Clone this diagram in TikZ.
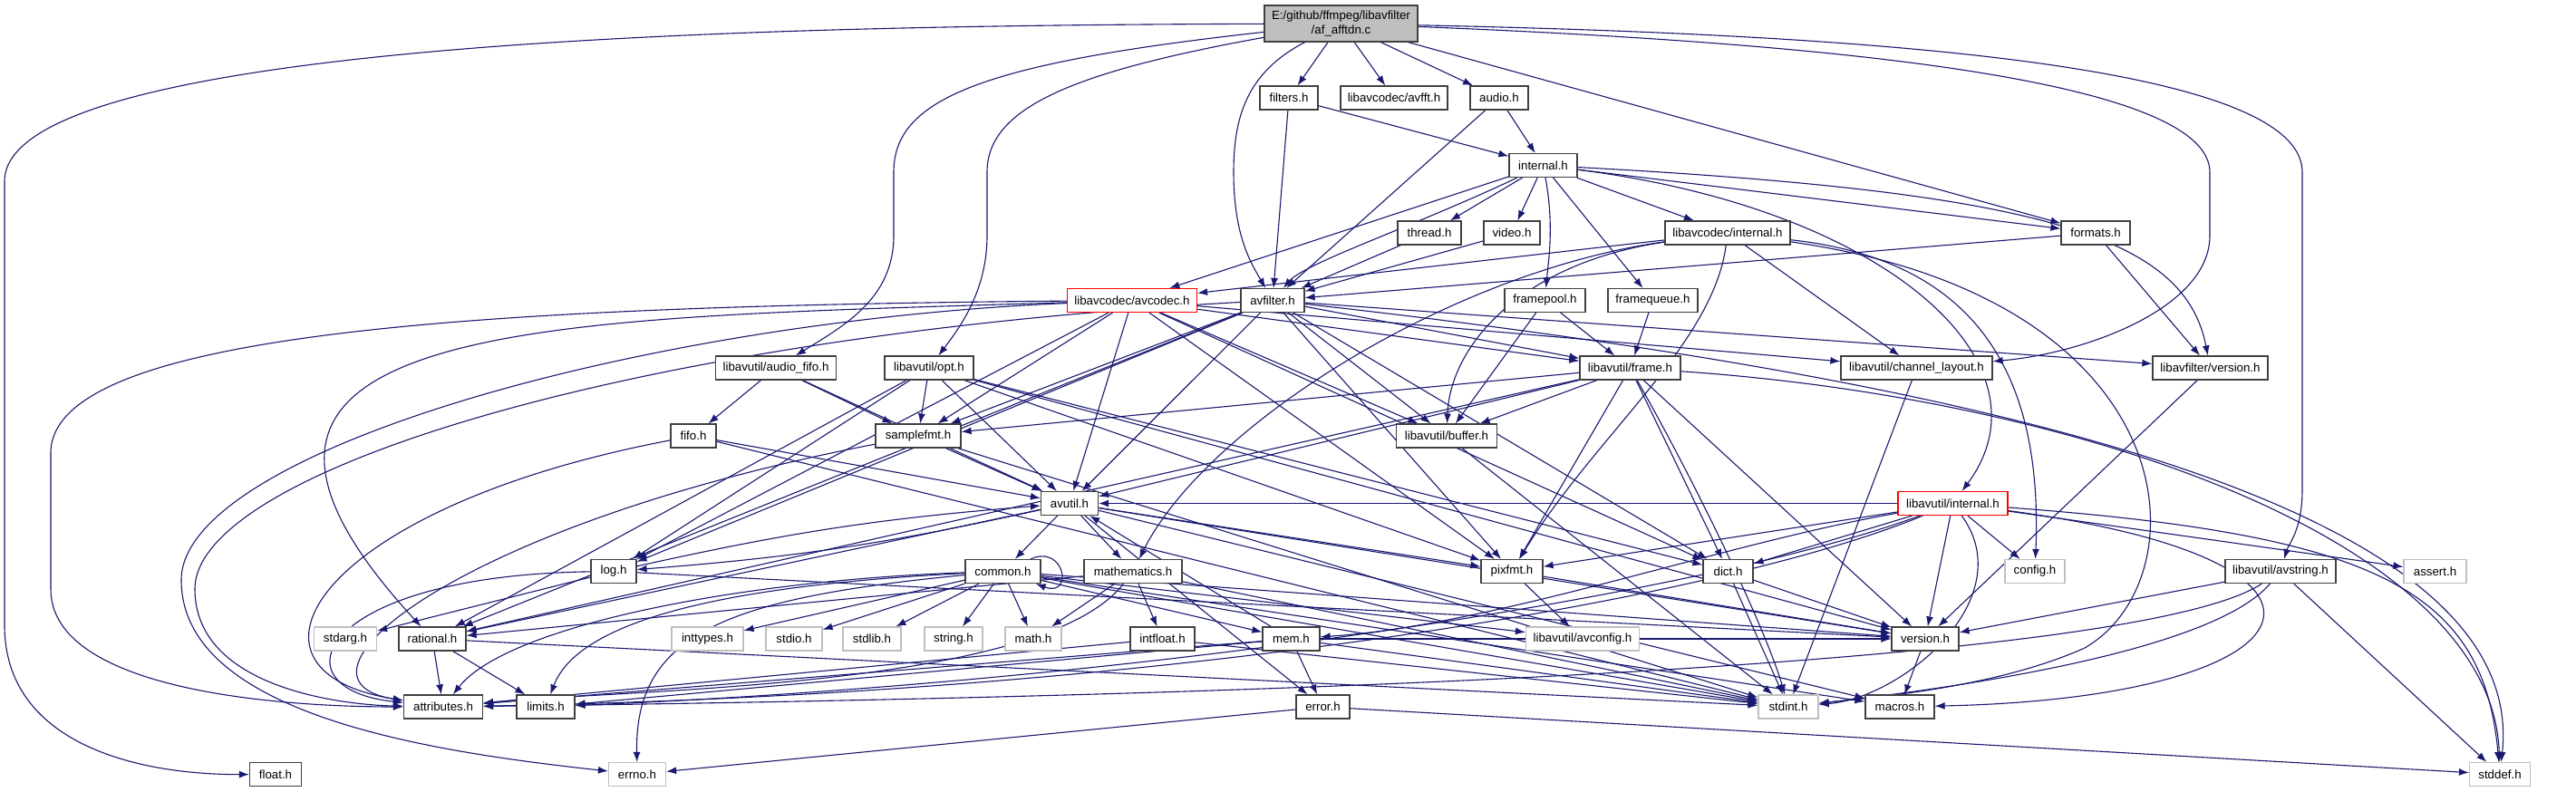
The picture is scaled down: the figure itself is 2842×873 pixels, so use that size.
\documentclass[tikz,border=0pt]{standalone}
\usepackage{fontspec}
\setmainfont{Liberation Sans}
\usetikzlibrary{arrows.meta}
\pgfdeclarelayer{bg}
\pgfsetlayers{bg,main}
\definecolor{edgec}{HTML}{191970}
\definecolor{grayb}{HTML}{BFBFBF}
\definecolor{nodeb}{HTML}{404040}
\begin{document}
\begin{tikzpicture}[x=1pt,y=-1pt,
  nd/.style={draw=nodeb,line width=1.2pt,fill=white,minimum height=26pt,inner sep=0pt,font=\fontsize{13.3}{15.5}\selectfont},
  gnd/.style={nd,draw=grayb},
  rnd/.style={nd,draw=red},
  e/.style={draw=edgec,line width=1.1pt,-{Latex[length=11pt,width=8pt]}}]
\useasboundingbox (0,0) rectangle (2842,873);
% nodes
\node[nd,fill=grayb,minimum width=169pt,minimum height=40pt,align=center] (root) at (1479.5,26) {E:/github/ffmpeg/libavfilter\\/af\_afftdn.c};
\node[nd,minimum width=64pt] (filters) at (1422,108) {filters.h};
\node[nd,minimum width=118pt] (avfft) at (1538,108) {libavcodec/avfft.h};
\node[nd,minimum width=64pt] (audio) at (1654,108) {audio.h};
\node[nd,minimum width=75pt] (internal) at (1702.5,182.5) {internal.h};
\node[nd,minimum width=70pt] (thread) at (1577,257) {thread.h};
\node[nd,minimum width=62pt] (video) at (1668,257) {video.h};
\node[nd,minimum width=138pt] (lcint) at (1906,257) {libavcodec/internal.h};
\node[nd,minimum width=76pt] (formats) at (2312,257) {formats.h};
\node[rnd,minimum width=143pt] (avcodec) at (1249,331.5) {libavcodec/avcodec.h};
\node[nd,minimum width=70pt] (avfilter) at (1404,331.5) {avfilter.h};
\node[nd,minimum width=89pt] (framepool) at (1704.5,331.5) {framepool.h};
\node[nd,minimum width=99pt] (framequeue) at (1823.5,331.5) {framequeue.h};
\node[nd,minimum width=133pt] (audiofifo) at (856,406) {libavutil/audio\_fifo.h};
\node[nd,minimum width=98pt] (opt) at (1025,406) {libavutil/opt.h};
\node[nd,minimum width=111pt] (frame) at (1798.5,406) {libavutil/frame.h};
\node[nd,minimum width=167pt] (chlayout) at (2114.5,406) {libavutil/channel\_layout.h};
\node[nd,minimum width=127pt] (lfversion) at (2438.5,406) {libavfilter/version.h};
\node[nd,minimum width=50pt] (fifo) at (765,481) {fifo.h};
\node[nd,minimum width=94pt] (samplefmt) at (1013,481) {samplefmt.h};
\node[nd,minimum width=111pt] (buffer) at (1596,481) {libavutil/buffer.h};
\node[nd,minimum width=63pt] (avutil) at (1180,555.5) {avutil.h};
\node[rnd,minimum width=121pt] (luint) at (2154.5,555.5) {libavutil/internal.h};
\node[nd,minimum width=50pt] (log) at (677,630.5) {log.h};
\node[nd,minimum width=83pt] (common) at (1106.5,630.5) {common.h};
\node[nd,minimum width=108pt] (mathematics) at (1250,630.5) {mathematics.h};
\node[nd,minimum width=68pt] (pixfmt) at (1668,630.5) {pixfmt.h};
\node[nd,minimum width=55pt] (dict) at (1906.5,630.5) {dict.h};
\node[gnd,minimum width=66pt] (config) at (2245,630.5) {config.h};
\node[nd,minimum width=122pt] (avstring) at (2516,630.5) {libavutil/avstring.h};
\node[gnd,minimum width=69pt] (assert) at (2686.5,630.5) {assert.h};
\node[gnd,minimum width=69pt] (stdarg) at (381,705) {stdarg.h};
\node[nd,minimum width=74pt] (rational) at (477,705) {rational.h};
\node[gnd,minimum width=79pt] (inttypes) at (780.5,705) {inttypes.h};
\node[gnd,minimum width=62pt] (stdio) at (876,705) {stdio.h};
\node[gnd,minimum width=64pt] (stdlib) at (962,705) {stdlib.h};
\node[gnd,minimum width=64pt] (string) at (1052,705) {string.h};
\node[gnd,minimum width=62pt] (math) at (1140,705) {math.h};
\node[nd,minimum width=71pt] (intfloat) at (1282.5,705) {intfloat.h};
\node[nd,minimum width=63pt] (mem) at (1424.5,705) {mem.h};
\node[gnd,minimum width=125pt] (avconfig) at (1746,705) {libavutil/avconfig.h};
\node[nd,minimum width=74pt] (version) at (2124,705) {version.h};
\node[nd,minimum width=87pt] (attributes) at (489,780) {attributes.h};
\node[nd,minimum width=64pt] (limits) at (602,780) {limits.h};
\node[nd,minimum width=59pt] (error) at (1459.5,780) {error.h};
\node[gnd,minimum width=66pt] (stdint) at (1973,780) {stdint.h};
\node[nd,minimum width=76pt] (macros) at (2096,780) {macros.h};
\node[nd,minimum width=57pt] (float) at (304,854.5) {float.h};
\node[gnd,minimum width=63pt] (errno) at (703,854.5) {errno.h};
\node[gnd,minimum width=67pt] (stddef) at (2758,854.5) {stddef.h};
\begin{pgfonlayer}{bg}
\fill[white] (0,0) rectangle (2842,873);
% root
\draw[e] (root) .. controls (900,28) and (5,40) .. (5,200) -- (5,690) .. controls (5,820) and (150,855) .. (float);
\draw[e] (root) .. controls (1080,70) and (986,110) .. (986,190) -- (986,260) .. controls (986,330) and (930,360) .. (audiofifo);
\draw[e] (root) .. controls (1180,80) and (1089,120) .. (1089,190) -- (1089,260) .. controls (1089,320) and (1060,360) .. (opt);
\draw[e] (root) .. controls (1375,80) and (1361,130) .. (1361,190) .. controls (1361,260) and (1380,290) .. (avfilter);
\draw[e] (root) -- (filters);
\draw[e] (root) -- (avfft);
\draw[e] (root) -- (audio);
\draw[e] (root) -- (formats);
\draw[e] (root) .. controls (1950,45) and (2438,80) .. (2438,190) -- (2438,260) .. controls (2438,340) and (2300,390) .. (chlayout);
\draw[e] (root) .. controls (2050,38) and (2540,70) .. (2540,190) -- (2540,540) .. controls (2540,585) and (2525,600) .. (avstring);
% filters, audio
\draw[e] (filters) -- (avfilter);
\draw[e] (filters) -- (internal);
\draw[e] (audio) -- (avfilter);
\draw[e] (audio) -- (internal);
% internal
\draw[e] (internal) -- (avcodec);
\draw[e] (internal) .. controls (1560,250) and (1440,290) .. (avfilter);
\draw[e] (internal) -- (thread);
\draw[e] (internal) -- (video);
\draw[e] (internal) .. controls (1715,250) and (1708,290) .. (framepool);
\draw[e] (internal) -- (framequeue);
\draw[e] (internal) -- (lcint);
\draw[e] (internal) -- (formats);
\draw[e] (internal) .. controls (2250,212) and (2410,260) .. (lfversion);
\draw[e] (internal) .. controls (2080,230) and (2270,400) .. (luint);
\draw[e] (thread) -- (avfilter);
\draw[e] (video) -- (avfilter);
% libavcodec/internal.h
\draw[e] (lcint) -- (avcodec);
\draw[e] (lcint) .. controls (1680,290) and (1600,380) .. (buffer);
\draw[e] (lcint) .. controls (1600,300) and (1330,470) .. (mathematics);
\draw[e] (lcint) .. controls (1890,380) and (1760,480) .. (pixfmt);
\draw[e] (lcint) -- (chlayout);
\draw[e] (lcint) .. controls (2160,285) and (2255,390) .. (config);
\draw[e] (lcint) .. controls (2420,330) and (2430,640) .. (2300,715) .. controls (2200,760) and (2060,770) .. (stdint);
% formats
\draw[e] (formats) -- (avfilter);
\draw[e] (formats) -- (lfversion);
% avcodec
\draw[e] (avcodec) .. controls (700,355) and (200,500) .. (200,640) .. controls (200,790) and (480,830) .. (errno);
\draw[e] (avcodec) .. controls (500,338) and (56,370) .. (56,500) -- (56,650) .. controls (56,760) and (300,780) .. (attributes);
\draw[e] (avcodec) .. controls (600,352) and (150,350) .. (rational);
\draw[e] (avcodec) -- (samplefmt);
\draw[e] (avcodec) -- (avutil);
\draw[e] (avcodec) -- (buffer);
\draw[e] (avcodec) -- (chlayout);
\draw[e] (avcodec) -- (dict);
\draw[e] (avcodec) -- (frame);
\draw[e] (avcodec) -- (log);
\draw[e] (avcodec) -- (pixfmt);
% avfilter
\draw[e] (avfilter) .. controls (700,370) and (215,520) .. (215,650) .. controls (215,760) and (380,778) .. (attributes);
\draw[e] (avfilter) .. controls (2200,420) and (2790,560) .. (stddef);
\draw[e] (avfilter) -- (avutil);
\draw[e] (avfilter) -- (buffer);
\draw[e] (avfilter) -- (dict);
\draw[e] (avfilter) -- (frame);
\draw[e] (avfilter) -- (log);
\draw[e] (avfilter) -- (samplefmt);
\draw[e] (avfilter) -- (pixfmt);
\draw[e] (avfilter) -- (rational);
\draw[e] (avfilter) -- (lfversion);
% frame
\draw[e] (frame) .. controls (2300,440) and (2750,600) .. (stddef);
\draw[e] (frame) .. controls (1880,550) and (1950,700) .. (stdint);
\draw[e] (frame) -- (avutil);
\draw[e] (frame) -- (buffer);
\draw[e] (frame) -- (dict);
\draw[e] (frame) -- (rational);
\draw[e] (frame) -- (samplefmt);
\draw[e] (frame) -- (pixfmt);
\draw[e] (frame) -- (version);
\draw[e] (framepool) -- (buffer);
\draw[e] (framepool) -- (frame);
\draw[e] (framequeue) -- (frame);
% opt
\draw[e] (opt) -- (rational);
\draw[e] (opt) -- (avutil);
\draw[e] (opt) -- (dict);
\draw[e] (opt) -- (log);
\draw[e] (opt) -- (pixfmt);
\draw[e] (opt) -- (samplefmt);
\draw[e] (opt) -- (version);
% audio_fifo, fifo, samplefmt
\draw[e] (audiofifo) -- (avutil);
\draw[e] (audiofifo) -- (fifo);
\draw[e] (audiofifo) -- (samplefmt);
\draw[e] (fifo) -- (avutil);
\draw[e] (fifo) .. controls (350,560) and (240,740) .. (attributes);
\draw[e] (fifo) -- (stdint);
\draw[e] (samplefmt) -- (stdint);
\draw[e] (samplefmt) -- (avutil);
\draw[e] (samplefmt) .. controls (500,580) and (300,750) .. (attributes);
\draw[e] (buffer) -- (stdint);
\draw[e] (chlayout) -- (stdint);
\draw[e] (lfversion) -- (version);
% avutil
\draw[e] (avutil) -- (common);
\draw[e] (avutil) -- (error);
\draw[e] (avutil) -- (rational);
\draw[e] (avutil) -- (version);
\draw[e] (avutil) -- (macros);
\draw[e] (avutil) -- (mathematics);
\draw[e] (avutil) to[bend left=4] (log);
\draw[e] (avutil) -- (pixfmt);
% libavutil/internal.h
\draw[e] (luint) -- (avutil);
\draw[e] (luint) .. controls (1900,650) and (1300,750) .. (limits);
\draw[e] (luint) .. controls (1900,660) and (1300,765) .. (attributes);
\draw[e] (luint) .. controls (2230,660) and (2100,770) .. (stdint);
\draw[e] (luint) .. controls (2620,590) and (2740,650) .. (stddef);
\draw[e] (luint) -- (assert);
\draw[e] (luint) -- (config);
\draw[e] (luint) -- (dict);
\draw[e] (luint) .. controls (2640,620) and (2560,770) .. (macros);
\draw[e] (luint) .. controls (1900,600) and (1650,690) .. (mem);
\draw[e] (luint) -- (pixfmt);
\draw[e] (luint) -- (version);
% log
\draw[e] (log) -- (stdarg);
\draw[e] (log) to[bend left=4] (avutil);
\draw[e] (log) .. controls (350,635) and (300,760) .. (attributes);
\draw[e] (log) -- (version);
% common
\draw[e] (common) .. controls (800,660) and (700,700) .. (errno);
\draw[e] (common) -- (inttypes);
\draw[e] (common) .. controls (820,645) and (640,680) .. (limits);
\draw[e] (common) -- (math);
\draw[e] (common) -- (stdint);
\draw[e] (common) -- (stdio);
\draw[e] (common) -- (stdlib);
\draw[e] (common) -- (string);
\draw[e] (common) .. controls (820,640) and (560,690) .. (attributes);
\draw[e] (common) -- (macros);
\draw[e] (common) -- (version);
\draw[e] (common) -- (avconfig);
\draw[e] (common) -- (mem);
\draw[e] (common) .. controls (1175,600) and (1185,660) .. (common);
% mathematics
\draw[e] (mathematics) -- (stdint);
\draw[e] (mathematics) -- (math);
\draw[e] (mathematics) .. controls (1150,760) and (700,760) .. (attributes);
\draw[e] (mathematics) -- (rational);
\draw[e] (mathematics) -- (intfloat);
% others
\draw[e] (pixfmt) -- (avconfig);
\draw[e] (pixfmt) -- (version);
\draw[e] (dict) -- (stdint);
\draw[e] (dict) -- (version);
\draw[e] (avstring) -- (stddef);
\draw[e] (avstring) .. controls (2440,720) and (2150,760) .. (stdint);
\draw[e] (avstring) .. controls (2350,740) and (1300,770) .. (attributes);
\draw[e] (avstring) -- (version);
\draw[e] (intfloat) -- (stdint);
\draw[e] (intfloat) -- (attributes);
\draw[e] (mem) -- (limits);
\draw[e] (mem) -- (stdint);
\draw[e] (mem) -- (attributes);
\draw[e] (mem) -- (error);
\draw[e] (mem) -- (avutil);
\draw[e] (mem) -- (version);
\draw[e] (error) -- (errno);
\draw[e] (error) -- (stddef);
\draw[e] (version) -- (macros);
\draw[e] (rational) -- (stdint);
\draw[e] (rational) -- (limits);
\draw[e] (rational) -- (attributes);
\end{pgfonlayer}
\end{tikzpicture}
\end{document}
